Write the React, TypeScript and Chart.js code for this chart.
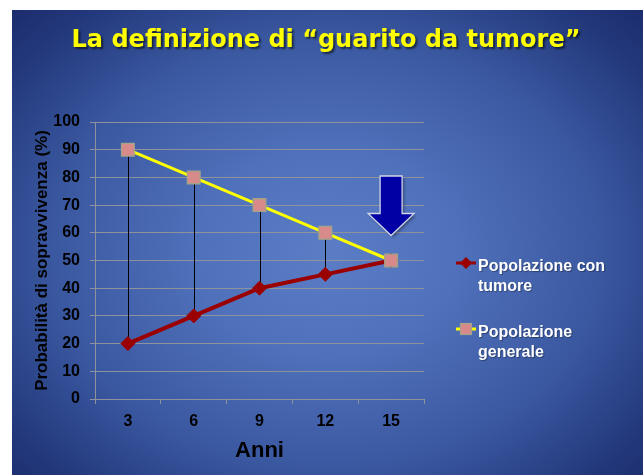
import React, { useEffect, useRef } from "react";
import { Chart, registerables } from "chart.js";

Chart.register(...registerables);

const TITLE = "La definizione di \u201cguarito da tumore\u201d";
const YEARS = ["3", "6", "9", "12", "15"];
const WITH_TUMOR = [20, 30, 40, 45, 50];
const GENERAL = [90, 80, 70, 60, 50];
const SERIES_NAMES = [["Popolazione con", "tumore"], ["Popolazione", "generale"]];
const Y_TITLE = "Probabilità di sopravvivenza (%)";
const X_TITLE = "Anni";

const SANS = "'Liberation Sans', Arial, sans-serif";
const RED = "#9a0000";
const YELLOW = "#ffff00";
const PINK = "#d88a8a";
const PINK_BORDER = "#a3a487";
const GRID = "#8e929c";

const overlay = {
  id: "overlay",
  beforeDatasetsDraw(chart: any) {
    const ctx = chart.ctx;
    const a = chart.getDatasetMeta(0).data;
    const b = chart.getDatasetMeta(1).data;
    ctx.save();
    ctx.strokeStyle = "#000000";
    ctx.lineWidth = 1;
    for (let i = 0; i < a.length; i++) {
      if (Math.abs(a[i].y - b[i].y) < 1) continue;
      const x = Math.round(a[i].x) + 0.5;
      ctx.beginPath();
      ctx.moveTo(x, b[i].y);
      ctx.lineTo(x, a[i].y);
      ctx.stroke();
    }
    ctx.restore();
  },
  afterDraw(chart: any) {
    const ctx = chart.ctx;
    const area = chart.chartArea;
    const yS = chart.scales.y;
    // Title
    ctx.save();
    ctx.font = "bold 24px 'DejaVu Sans', Verdana, sans-serif";
    ctx.textAlign = "center";
    ctx.textBaseline = "alphabetic";
    ctx.shadowColor = "rgba(0,0,0,0.55)";
    ctx.shadowOffsetX = 2;
    ctx.shadowOffsetY = 2;
    ctx.shadowBlur = 2;
    ctx.fillStyle = "#ffff00";
    ctx.fillText(TITLE, 326, 47);
    ctx.restore();

    // Arrow above the last general-population point
    const meta = chart.getDatasetMeta(1).data;
    const last = meta[meta.length - 1];
    const cx = last.x;
    const tip = last.y - 25;
    const top = yS.getPixelForValue(GENERAL[GENERAL.length - 1] + 30.5);
    const headY = tip - 22;
    const sw = 11, hw = 23;
    ctx.save();
    ctx.beginPath();
    ctx.moveTo(cx - sw, top);
    ctx.lineTo(cx + sw, top);
    ctx.lineTo(cx + sw, headY);
    ctx.lineTo(cx + hw, headY);
    ctx.lineTo(cx, tip);
    ctx.lineTo(cx - hw, headY);
    ctx.lineTo(cx - sw, headY);
    ctx.closePath();
    ctx.shadowColor = "rgba(0,0,0,0.35)";
    ctx.shadowOffsetX = 2;
    ctx.shadowOffsetY = 2;
    ctx.shadowBlur = 3;
    ctx.fillStyle = "#0000a4";
    ctx.fill();
    ctx.shadowColor = "transparent";
    ctx.strokeStyle = "#d0d6e6";
    ctx.lineWidth = 1.3;
    ctx.stroke();
    ctx.restore();

    // Legend
    const lx = area.right + 32;
    const entries = [
      { y: 263, color: RED, style: "diamond" },
      { y: 329, color: YELLOW, style: "square" },
    ];
    ctx.save();
    entries.forEach((e, i) => {
      ctx.strokeStyle = e.color;
      ctx.lineWidth = 3;
      ctx.beginPath();
      ctx.moveTo(lx, e.y);
      ctx.lineTo(lx + 20, e.y);
      ctx.stroke();
      const mx = lx + 10;
      if (e.style === "diamond") {
        ctx.fillStyle = RED;
        ctx.beginPath();
        ctx.moveTo(mx, e.y - 6);
        ctx.lineTo(mx + 6, e.y);
        ctx.lineTo(mx, e.y + 6);
        ctx.lineTo(mx - 6, e.y);
        ctx.closePath();
        ctx.fill();
      } else {
        ctx.fillStyle = PINK;
        ctx.strokeStyle = PINK_BORDER;
        ctx.lineWidth = 1.2;
        ctx.fillRect(mx - 5.5, e.y - 5.5, 11, 11);
        ctx.strokeRect(mx - 5.5, e.y - 5.5, 11, 11);
      }
      ctx.fillStyle = "#ffffff";
      ctx.font = `bold 16px ${SANS}`;
      ctx.textAlign = "left";
      ctx.textBaseline = "alphabetic";
      ctx.shadowColor = "rgba(0,0,0,0.35)";
      ctx.shadowOffsetX = 1;
      ctx.shadowOffsetY = 1;
      ctx.shadowBlur = 1;
      SERIES_NAMES[i].forEach((t, k) => {
        ctx.fillText(t, lx + 22, e.y + 8 + k * 20);
      });
      ctx.shadowColor = "transparent";
    });
    ctx.restore();
  },
};

export default function App() {
  const ref = useRef<HTMLCanvasElement>(null);
  useEffect(() => {
    if (!ref.current) return;
    const chart = new Chart(ref.current, {
      type: "line",
      data: {
        labels: YEARS,
        datasets: [
          {
            label: SERIES_NAMES[0].join(" "),
            data: WITH_TUMOR,
            borderColor: RED,
            backgroundColor: RED,
            borderWidth: 4,
            pointStyle: "rectRot",
            pointRadius: 7,
            pointBackgroundColor: RED,
            pointBorderColor: RED,
            pointBorderWidth: 1,
            order: 1,
          },
          {
            label: SERIES_NAMES[1].join(" "),
            data: GENERAL,
            borderColor: YELLOW,
            backgroundColor: PINK,
            borderWidth: 3,
            pointStyle: "rect",
            pointRadius: 9,
            pointBackgroundColor: PINK,
            pointBorderColor: PINK_BORDER,
            pointBorderWidth: 1.3,
            order: 0,
          },
        ],
      },
      options: {
        responsive: false,
        maintainAspectRatio: false,
        devicePixelRatio: 1,
        animation: false,
        layout: { padding: { left: 32, right: 219, top: 122, bottom: 11 } },
        plugins: {
          legend: { display: false },
          title: { display: false },
          tooltip: { enabled: false },
        },
        scales: {
          x: {
            type: "category",
            offset: true,
            grid: {
              offset: true,
              drawOnChartArea: false,
              drawTicks: true,
              tickLength: 5,
              color: GRID,
            },
            border: { display: true, color: GRID, width: 1 },
            ticks: {
              color: "#000000",
              font: { family: SANS, size: 16, weight: "bold" },
              padding: 8,
              maxRotation: 0,
            },
            title: {
              display: true,
              text: X_TITLE,
              color: "#000000",
              font: { family: SANS, size: 22, weight: "bold" },
              padding: 0,
            },
            afterFit: (s: any) => {
              s.height = 65;
            },
          },
          y: {
            min: 0,
            max: 100,
            ticks: {
              stepSize: 10,
              color: "#000000",
              font: { family: SANS, size: 16, weight: "bold" },
              padding: 10,
            },
            grid: {
              color: GRID,
              lineWidth: 1,
              drawTicks: true,
              tickLength: 5,
            },
            border: { display: true, color: GRID, width: 1 },
            title: {
              display: true,
              text: Y_TITLE,
              color: "#000000",
              font: { family: SANS, size: 17, weight: "bold" },
              padding: 0,
            },
            afterFit: (s: any) => {
              s.width = 63;
            },
          },
        },
      },
      plugins: [overlay],
    });
    return () => chart.destroy();
  }, []);

  return (
    <div style={{ position: "absolute", left: 0, top: 0, width: 643, height: 475, background: "#ffffff", overflow: "hidden" }}>
      <div
        style={{
          position: "absolute",
          left: 12,
          top: 10,
          width: 631,
          height: 465,
          background:
            "radial-gradient(ellipse 70% 75% at 50% 52%, #5b7dc6 0%, #4f70ba 30%, #3a58a0 62%, #22377a 88%, #1b2c6c 100%)",
        }}
      />
      <canvas ref={ref} width={643} height={475} style={{ position: "absolute", left: 0, top: 0 }} />
    </div>
  );
}
